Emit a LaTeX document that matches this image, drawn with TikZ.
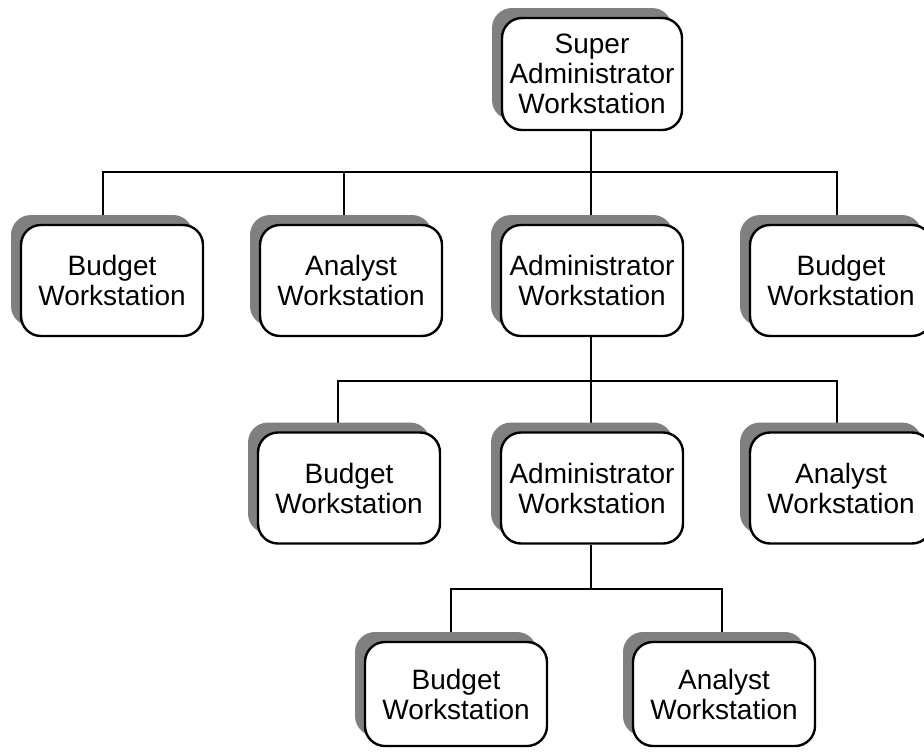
\documentclass[tikz,border=0pt]{standalone}
\usepackage{fontspec}
\setmainfont{Liberation Sans}
\usetikzlibrary{shadows,backgrounds}
\begin{document}
\begin{tikzpicture}[x=1pt,y=-1pt,
  ws/.style={draw=black, line width=2.4pt, fill=white, rounded corners=20pt,
    minimum width=182pt, minimum height=111pt, inner sep=0pt, align=center,
    font=\fontsize{28}{30}\selectfont,
    general shadow={fill=black!50, shadow xshift=-10pt, shadow yshift=10pt}},
  link/.style={draw=black, line width=2.5pt}]
\useasboundingbox (0,0) rectangle (924,755);
\clip (0,0) rectangle (924,755);
% level 1
\node[ws, minimum width=180pt, minimum height=112pt] (super) at (592,74) {Super\\Administrator\\Workstation};
% level 2
\node[ws] (b1) at (112,280.5) {Budget\\Workstation};
\node[ws] (a1) at (351,280.5) {Analyst\\Workstation};
\node[ws] (ad1) at (592,280.5) {Administrator\\Workstation};
\node[ws] (b2) at (841,280.5) {Budget\\Workstation};
% level 3
\node[ws] (b3) at (349,488) {Budget\\Workstation};
\node[ws] (ad2) at (592,488) {Administrator\\Workstation};
\node[ws] (an3) at (841,488) {Analyst\\Workstation};
% level 4
\node[ws, minimum height=104pt] (b4) at (456,694) {Budget\\Workstation};
\node[ws, minimum height=104pt] (an4) at (724,694) {Analyst\\Workstation};
% junctions
\coordinate (j1) at (591,172);
\coordinate (j2) at (591,381);
\coordinate (j3) at (591,589);
\begin{scope}[on background layer]
\draw[link] ([xshift=-1pt]super.south) -- (j1);
\draw[link] (j1) -| ([xshift=-9pt]b1.north);
\draw[link] (j1) -| ([xshift=-7pt]a1.north);
\draw[link] (j1) -- ([xshift=-1pt]ad1.north);
\draw[link] (j1) -| ([xshift=-4pt]b2.north);
\draw[link] ([xshift=-1pt]ad1.south) -- (j2);
\draw[link] (j2) -| ([xshift=-11pt]b3.north);
\draw[link] (j2) -- ([xshift=-1pt]ad2.north);
\draw[link] (j2) -| ([xshift=-4pt]an3.north);
\draw[link] ([xshift=-1pt]ad2.south) -- (j3);
\draw[link] (j3) -| ([xshift=-5pt]b4.north);
\draw[link] (j3) -| ([xshift=-2pt]an4.north);
\end{scope}
\end{tikzpicture}
\end{document}
